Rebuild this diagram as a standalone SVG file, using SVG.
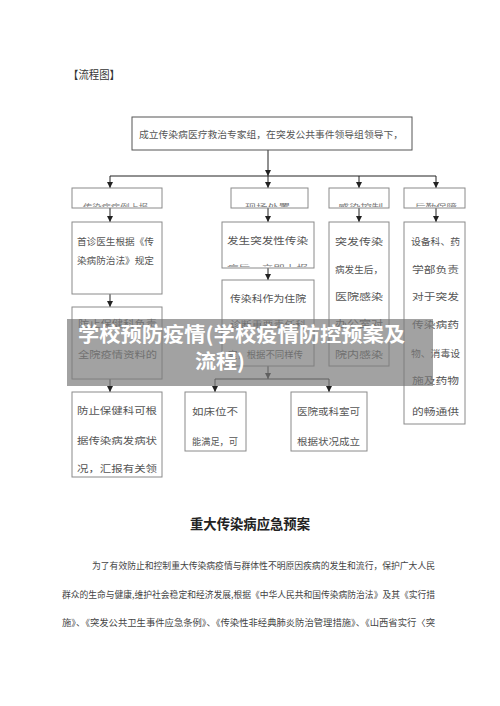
<svg xmlns="http://www.w3.org/2000/svg" width="500" height="706" viewBox="0 0 500 706">
<style>
.box{fill:#fff;stroke:#8a8a8a;stroke-width:1}
.top{fill:#fff;stroke:#555;stroke-width:1}
.t{font-family:"Noto Sans CJK SC","Liberation Serif",serif;font-size:9.5px;fill:#555}
.s{font-family:"Noto Sans CJK SC","Liberation Serif",serif;font-size:8px;fill:#777}
.p{font-family:"Noto Sans CJK SC","Liberation Serif",serif;font-size:9px;fill:#444}
.ln{fill:none;stroke:#222;stroke-width:1}
.ban{font-family:"Noto Sans CJK SC","Liberation Sans",sans-serif;font-size:20px;font-weight:bold;fill:#fff}
</style>
<defs>
<marker id="ah" viewBox="0 0 6 6" refX="6" refY="3" markerWidth="6" markerHeight="6" orient="auto" markerUnits="userSpaceOnUse">
<path d="M0,0 L6,3 L0,6 Z" fill="#222"/>
</marker>
<clipPath id="c1"><rect x="72" y="202" width="90" height="5"/></clipPath>
<clipPath id="c2"><rect x="231" y="202" width="77" height="5"/></clipPath>
<clipPath id="c3"><rect x="329" y="202" width="59" height="5"/></clipPath>
<clipPath id="c4"><rect x="404" y="202" width="60" height="5"/></clipPath>
<clipPath id="cA"><rect x="222" y="262" width="92" height="5"/></clipPath>
</defs>
<rect width="500" height="706" fill="#fff"/>
<text x="68" y="79" font-family="Noto Sans CJK SC,Liberation Serif,serif" font-size="11" fill="#333" textLength="52" lengthAdjust="spacingAndGlyphs">【流程图】</text>

<g id="connectors">
<path class="ln" d="M268,150 V176" marker-end="url(#ah)"/>
<path class="ln" d="M110,176 H436"/>
<path class="ln" d="M110,176 V188" marker-end="url(#ah)"/>
<path class="ln" d="M268,176 V188" marker-end="url(#ah)"/>
<path class="ln" d="M359,176 V188" marker-end="url(#ah)"/>
<path class="ln" d="M436,176 V188" marker-end="url(#ah)"/>
<path class="ln" d="M110,208 V222" marker-end="url(#ah)"/>
<path class="ln" d="M268,208 V222" marker-end="url(#ah)"/>
<path class="ln" d="M359,208 V222" marker-end="url(#ah)"/>
<path class="ln" d="M436,208 V222" marker-end="url(#ah)"/>
<path class="ln" d="M110,294 V307" marker-end="url(#ah)"/>
<path class="ln" d="M110,379 V392" marker-end="url(#ah)"/>
<path class="ln" d="M268,268 V280" marker-end="url(#ah)"/>
<path class="ln" d="M268,366 V379" marker-end="url(#ah)"/>
<path class="ln" d="M215,379 H329"/>
<path class="ln" d="M215,379 V392" marker-end="url(#ah)"/>
<path class="ln" d="M329,379 V392" marker-end="url(#ah)"/>
</g>

<g id="n-top">
<rect class="top" x="132" y="117" width="280" height="33"/>
<text class="t" x="139" y="138" font-size="10" textLength="264" lengthAdjust="spacingAndGlyphs">成立传染病医疗救治专家组，在突发公共事件领导组领导下，</text>
</g>

<g id="n-l1"><rect class="box" x="72" y="188" width="90" height="20"/>
<text class="s" x="83" y="210" font-size="9" textLength="65" lengthAdjust="spacingAndGlyphs" clip-path="url(#c1)">传染病病例上报</text></g>
<g id="n-l2"><rect class="box" x="231" y="188" width="77" height="20"/>
<text class="s" x="245" y="210" font-size="9" textLength="45" lengthAdjust="spacingAndGlyphs" clip-path="url(#c2)">现场处置</text></g>
<g id="n-l3"><rect class="box" x="329" y="188" width="60" height="20"/>
<text class="s" x="338" y="210" font-size="9" textLength="45" lengthAdjust="spacingAndGlyphs" clip-path="url(#c3)">感染控制</text></g>
<g id="n-l4"><rect class="box" x="404" y="188" width="61" height="20"/>
<text class="s" x="415" y="210" font-size="9" textLength="42" lengthAdjust="spacingAndGlyphs" clip-path="url(#c4)">后勤保障</text></g>

<g id="n-a1"><rect class="box" x="72" y="222" width="90" height="72"/>
<text class="t" x="77" y="245" textLength="77" lengthAdjust="spacingAndGlyphs">首诊医生根据《传</text>
<text class="t" x="77" y="264" textLength="77" lengthAdjust="spacingAndGlyphs">染病防治法》规定</text></g>

<g id="n-a2"><rect class="box" x="72" y="307" width="90" height="72"/>
<text class="t" x="78" y="327" textLength="79" lengthAdjust="spacingAndGlyphs">防止保健科负责</text>
<text class="t" x="78" y="358" textLength="79" lengthAdjust="spacingAndGlyphs">全院疫情资料的</text></g>

<g id="n-a3"><rect class="box" x="72" y="392" width="90" height="85"/>
<text class="t" x="77" y="414" textLength="80" lengthAdjust="spacingAndGlyphs">防止保健科可根</text>
<text class="t" x="77" y="444" textLength="80" lengthAdjust="spacingAndGlyphs">据传染病发病状</text>
<text class="t" x="77" y="472" textLength="80" lengthAdjust="spacingAndGlyphs">况，汇报有关领</text></g>

<g id="n-b1"><rect class="box" x="222" y="222" width="92" height="46"/>
<text class="t" x="227" y="244" textLength="81" lengthAdjust="spacingAndGlyphs">发生突发性传染</text>
<text class="s" x="227" y="271" font-size="9.5" textLength="81" lengthAdjust="spacingAndGlyphs" clip-path="url(#cA)">病后，立即上报</text></g>

<g id="n-b2"><rect class="box" x="222" y="280" width="92" height="86"/>
<text class="t" x="230" y="302" textLength="76" lengthAdjust="spacingAndGlyphs">传染科作为住院</text>
<text class="t" x="230" y="328" textLength="76" lengthAdjust="spacingAndGlyphs">诊断重要责任科</text>
<text class="t" x="228" y="358" textLength="75" lengthAdjust="spacingAndGlyphs">室，根据不同样传</text></g>

<g id="n-b3"><rect class="box" x="185" y="392" width="61" height="59"/>
<text class="t" x="192" y="415" textLength="46" lengthAdjust="spacingAndGlyphs">如床位不</text>
<text class="t" x="192" y="445" textLength="46" lengthAdjust="spacingAndGlyphs">能满足，可</text></g>

<g id="n-c1"><rect class="box" x="329" y="222" width="60" height="144"/>
<text class="t" x="335" y="245" textLength="48" lengthAdjust="spacingAndGlyphs">突发传染</text>
<text class="t" x="335" y="273" textLength="48" lengthAdjust="spacingAndGlyphs">病发生后，</text>
<text class="t" x="335" y="300" textLength="48" lengthAdjust="spacingAndGlyphs">医院感染</text>
<text class="t" x="335" y="327" textLength="48" lengthAdjust="spacingAndGlyphs">办公室对</text>
<text class="t" x="335" y="358" textLength="48" lengthAdjust="spacingAndGlyphs">院内感染</text></g>

<g id="n-c2"><rect class="box" x="291" y="392" width="76" height="59"/>
<text class="t" x="297" y="415" textLength="63" lengthAdjust="spacingAndGlyphs">医院或科室可</text>
<text class="t" x="297" y="445" textLength="63" lengthAdjust="spacingAndGlyphs">根据状况成立</text></g>

<g id="n-d1"><rect class="box" x="404" y="222" width="61" height="202"/>
<text class="t" x="411" y="245" textLength="49" lengthAdjust="spacingAndGlyphs">设备科、药</text>
<text class="t" x="412" y="273" textLength="47" lengthAdjust="spacingAndGlyphs">学部负责</text>
<text class="t" x="412" y="300" textLength="47" lengthAdjust="spacingAndGlyphs">对于突发</text>
<text class="t" x="412" y="328" textLength="47" lengthAdjust="spacingAndGlyphs">传染病药</text>
<text class="t" x="411" y="357" textLength="49" lengthAdjust="spacingAndGlyphs">物、消毒设</text>
<text class="t" x="412" y="384" textLength="47" lengthAdjust="spacingAndGlyphs">施及药物</text>
<text class="t" x="412" y="415" textLength="47" lengthAdjust="spacingAndGlyphs">的畅通供</text></g>

<g id="banner">
<rect x="67" y="319" width="366" height="67" fill="#7a7a7a" fill-opacity="0.7"/>
<text class="ban" x="78" y="342" textLength="327" lengthAdjust="spacingAndGlyphs">学校预防疫情(学校疫情防控预案及</text>
<text class="ban" x="195" y="369" textLength="50" lengthAdjust="spacingAndGlyphs">流程)</text>
</g>

<text x="190" y="529" font-family="Noto Sans CJK SC,Liberation Serif,serif" font-size="13.5" font-weight="bold" fill="#222" textLength="120" lengthAdjust="spacingAndGlyphs">重大传染病应急预案</text>
<text class="p" x="92" y="569" textLength="343" lengthAdjust="spacingAndGlyphs">为了有效防止和控制重大传染病疫情与群体性不明原因疾病的发生和流行，保护广大人民</text>
<text class="p" x="62" y="598" textLength="373" lengthAdjust="spacingAndGlyphs">群众的生命与健康,维护社会稳定和经济发展,根据《中华人民共和国传染病防治法》及其《实行措</text>
<text class="p" x="62" y="626" textLength="373" lengthAdjust="spacingAndGlyphs">施》、《突发公共卫生事件应急条例》、《传染性非经典肺炎防治管理措施》、《山西省实行〈突</text>
</svg>
